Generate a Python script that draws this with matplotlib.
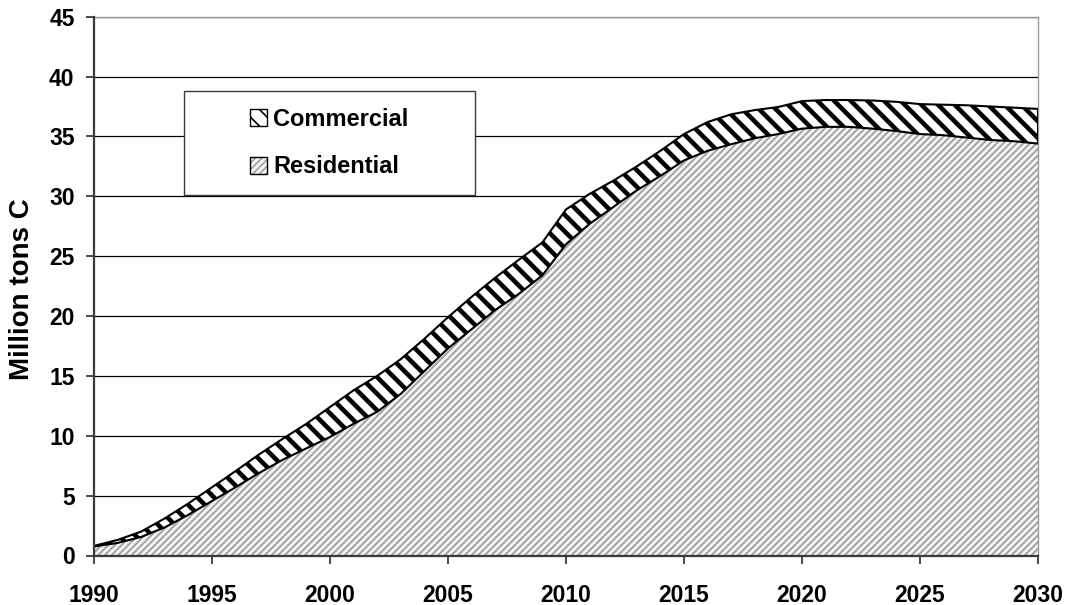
import matplotlib
matplotlib.use("Agg")
import matplotlib.pyplot as plt
from matplotlib.patches import Patch, Rectangle
from matplotlib.legend_handler import HandlerTuple
import numpy as np

# ---------------- data ----------------
years = list(range(1990, 2031))
residential = [0.75, 1.05, 1.55, 2.35, 3.4, 4.55, 5.7, 6.9, 8.0, 8.95,
               9.9, 11.0, 12.0, 13.5, 15.4, 17.3, 18.9, 20.5, 21.85, 23.4,
               26.0, 27.7, 29.1, 30.5, 31.7, 33.0, 33.8, 34.35, 34.85, 35.2,
               35.65, 35.8, 35.8, 35.65, 35.45, 35.2, 35.1, 34.9, 34.7, 34.6,
               34.4]
commercial = [0.05, 0.25, 0.45, 0.75, 0.95, 1.15, 1.35, 1.55, 1.75, 2.05,
              2.5, 2.8, 3.0, 2.9, 2.7, 2.6, 2.7, 2.7, 2.85, 2.75,
              2.9, 2.5, 2.2, 2.0, 2.1, 2.2, 2.4, 2.5, 2.35, 2.26,
              2.3, 2.24, 2.24, 2.35, 2.44, 2.5, 2.55, 2.7, 2.8, 2.8,
              2.9]
series_labels = ["Commercial", "Residential"]
x_ticks = [1990, 1995, 2000, 2005, 2010, 2015, 2020, 2025, 2030]
y_ticks = [0, 5, 10, 15, 20, 25, 30, 35, 40, 45]
y_label = "Million tons C"

# ---------------- style ----------------
plt.rcParams['font.family'] = ['Liberation Sans', 'DejaVu Sans']
plt.rcParams['font.weight'] = 'bold'

W, H = 1071, 605
fig = plt.figure(figsize=(W / 100, H / 100), dpi=100)
ax = fig.add_axes([94 / W, 49.5 / H, 944 / W, 538.8 / H])

yr = np.array(years, dtype=float)
res = np.array(residential)
tot = res + np.array(commercial)

RES_HATCH_LW = 1.35
COM_HATCH_LW = 3.3
RES_FACE = '#f4f4f4'
RES_HATCH = '#a0a0a0'

# residential: fine grey hatch, no edge
plt.rcParams['hatch.linewidth'] = RES_HATCH_LW
res_fill = ax.fill_between(yr, 0, res, facecolor=RES_FACE, edgecolor=RES_HATCH,
                           linewidth=0, hatch='/////', zorder=2)
if hasattr(res_fill, 'set_hatch_linewidth'):
    res_fill.set_hatch_linewidth(RES_HATCH_LW)

# commercial: thick black hatch, black outline
plt.rcParams['hatch.linewidth'] = COM_HATCH_LW
com_fill = ax.fill_between(yr, res, tot, facecolor='white', edgecolor='black',
                           linewidth=1.5, hatch='\\\\', zorder=3)
if hasattr(com_fill, 'set_hatch_linewidth'):
    com_fill.set_hatch_linewidth(COM_HATCH_LW)

ax.set_xlim(years[0], years[-1])
ax.set_ylim(y_ticks[0], y_ticks[-1])
ax.set_xticks(x_ticks)
ax.set_yticks(y_ticks)
ax.set_xticklabels([str(t) for t in x_ticks], fontsize=16.5, fontweight='bold')
ax.set_yticklabels([str(t) for t in y_ticks], fontsize=16.5, fontweight='bold')

ax.yaxis.grid(True, color='black', linewidth=0.9, zorder=0)
ax.set_axisbelow(True)

for s in ['top', 'right']:
    ax.spines[s].set_color('#9a9a9a')
    ax.spines[s].set_linewidth(1.0)
for s in ['left', 'bottom']:
    ax.spines[s].set_color('#3a3a3a')
    ax.spines[s].set_linewidth(1.6)
    ax.spines[s].set_zorder(4)

ax.tick_params(axis='x', direction='out', length=5.5, width=1.3, color='#3a3a3a', pad=15)
ax.tick_params(axis='y', direction='out', length=6, width=1.3, color='#3a3a3a', pad=8)

fig.text(22 / W, 1 - 289 / H, y_label, rotation=90, ha='center', va='center',
         fontsize=20, fontweight='bold')

# legend box (Excel style, larger than content)
bx0 = (184 - 94) / 944
by0 = (555.5 - 195) / 538.8
bw = (475 - 184) / 944
bh = (195 - 91) / 538.8
ax.add_patch(Rectangle((bx0, by0), bw, bh, transform=ax.transAxes,
                       facecolor='white', edgecolor='#3a3a3a', linewidth=1.0,
                       zorder=6))

plt.rcParams['hatch.linewidth'] = 2.6
h_com = Patch(facecolor='white', edgecolor='black', linewidth=1.0, hatch='\\\\')
plt.rcParams['hatch.linewidth'] = 1.2
h_res_fill = Patch(facecolor=RES_FACE, edgecolor=RES_HATCH, linewidth=0, hatch='/////')
h_res_edge = Patch(facecolor='none', edgecolor='black', linewidth=1.0)
for h, lw in [(h_com, 2.6), (h_res_fill, 1.2)]:
    if hasattr(h, 'set_hatch_linewidth'):
        h.set_hatch_linewidth(lw)

leg = ax.legend([h_com, (h_res_fill, h_res_edge)], series_labels,
                handler_map={tuple: HandlerTuple(ndivide=1, pad=0)},
                loc='center', bbox_to_anchor=(bx0 + bw / 2, by0 + bh / 2),
                bbox_transform=ax.transAxes, frameon=False,
                prop={'size': 17, 'weight': 'bold'},
                handlelength=0.72, handleheight=0.72, handletextpad=0.25,
                labelspacing=1.05, borderpad=0)
leg.set_zorder(7)

fig.savefig('out.png', dpi=100)
